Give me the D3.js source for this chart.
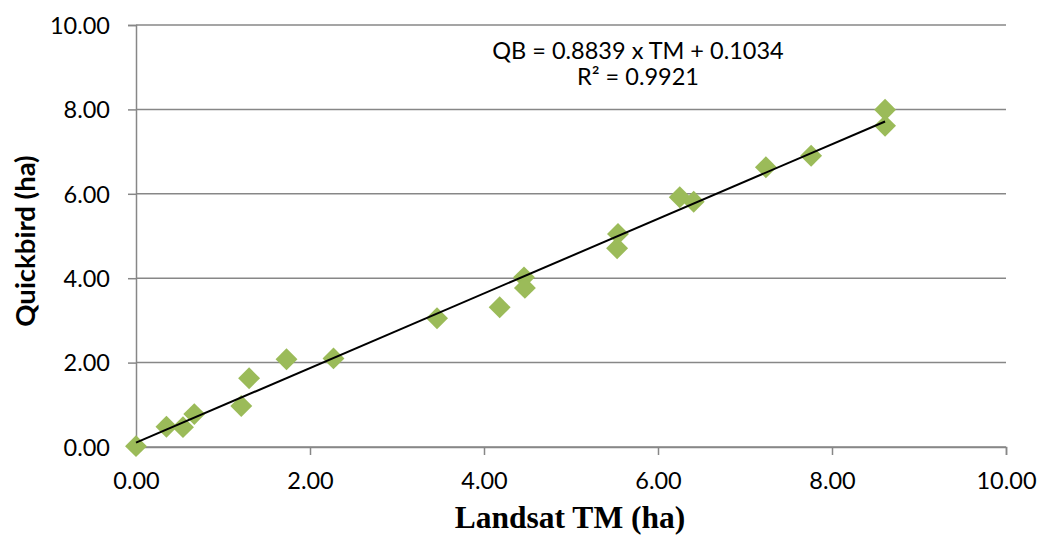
<!DOCTYPE html>
<html lang="en">
<head>
    <meta charset="UTF-8">
    <title>Quickbird vs Landsat TM</title>
    <style>
        body { margin: 0; background: #fff; }
        .tick text { font-family: Lato, "Noto Sans", sans-serif; font-size: 23.5px; fill: #000; }
        .grid line { stroke: #878787; stroke-width: 1.5px; }
    </style>
</head>
<body>

<svg width="1039" height="539"></svg>

<script src="https://cdn.jsdelivr.net/npm/d3@7"></script>

<script>
    // values
    var landsat = [0.00, 0.35, 0.54, 0.67, 1.21, 1.30, 1.73, 2.27, 3.46, 4.18, 4.46, 4.47,
                   5.54, 5.53, 6.25, 6.41, 7.24, 7.76, 8.61, 8.61];
    var quickbird = [0.02, 0.48, 0.47, 0.78, 0.97, 1.63, 2.08, 2.10, 3.05, 3.31, 4.02, 3.77,
                     5.05, 4.71, 5.92, 5.81, 6.63, 6.90, 7.99, 7.61];
    var ticks = [0, 2, 4, 6, 8, 10];
    var slope = 0.8839, intercept = 0.1034;
    var eqLabel = "QB = 0.8839 x TM + 0.1034";
    var r2Label = "R² = 0.9921";

    var svg = d3.select("svg")
    var margin = {top: 25, right: 33, bottom: 92, left: 136}
    var width = +svg.attr("width") - margin.left - margin.right
    var height = +svg.attr("height") - margin.top - margin.bottom
    var plotgroup = svg.append("g").attr("transform", `translate(${margin.left}, ${margin.top})`);

    var x = d3.scaleLinear().domain([0, 10]).range([0, width]);
    var y = d3.scaleLinear().domain([0, 10]).range([height, 0]);

    // horizontal grid
    plotgroup.append("g")
        .attr("class", "grid")
        .selectAll("line")
        .data(ticks)
        .join("line")
        .attr("x1", 0).attr("x2", width)
        .attr("y1", d => y(d)).attr("y2", d => y(d));

    var xAxis = plotgroup.append("g")
        .attr("transform", `translate(0, ${height})`)
        .call(d3.axisBottom(x).tickValues(ticks).tickFormat(d3.format(".2f")).tickSize(8).tickPadding(17));

    var yAxis = plotgroup.append("g")
        .call(d3.axisLeft(y).tickValues(ticks).tickFormat(d3.format(".2f")).tickSize(8).tickPadding(18));

    [xAxis, yAxis].forEach(function (a) {
        a.select(".domain").attr("stroke", "#878787").attr("stroke-width", 1.5);
        a.selectAll(".tick line").attr("stroke", "#878787").attr("stroke-width", 1.5);
    });
    yAxis.selectAll(".tick text").attr("dy", "0.35em");

    var pts = landsat.map((v, i) => ({tm: v, qb: quickbird[i]}));

    plotgroup.selectAll("path.pt")
        .data(pts)
        .join("path")
        .attr("class", "pt")
        .attr("d", d3.symbol(d3.symbolSquare, 240))
        .attr("transform", d => `translate(${x(d.tm)}, ${y(d.qb)}) rotate(45)`)
        .attr("fill", "#9BBB59");

    // linear trendline
    var tmMax = d3.max(landsat);
    plotgroup.append("line")
        .attr("x1", x(0)).attr("y1", y(intercept))
        .attr("x2", x(tmMax)).attr("y2", y(slope * tmMax + intercept))
        .attr("stroke", "#000")
        .attr("stroke-width", 2);

    var eq = plotgroup.append("text")
        .attr("text-anchor", "middle")
        .style("font-family", "Lato, 'Noto Sans', sans-serif")
        .style("font-size", "23.5px");
    eq.append("tspan").attr("x", 638 - margin.left).attr("y", 59 - margin.top).text(eqLabel);
    eq.append("tspan").attr("x", 638 - margin.left).attr("y", 85 - margin.top).text(r2Label);

    svg.append("text")
        .attr("x", margin.left + width / 2 - 1)
        .attr("y", 528)
        .attr("text-anchor", "middle")
        .style("font-family", "'Liberation Serif', 'Times New Roman', serif")
        .style("font-weight", "bold")
        .style("font-size", "31.5px")
        .text("Landsat TM (ha)");

    svg.append("text")
        .attr("transform", "translate(35, 241) rotate(-90)")
        .attr("text-anchor", "middle")
        .style("font-family", "Lato, 'Noto Sans', sans-serif")
        .style("font-weight", "bold")
        .style("font-size", "27.5px")
        .text("Quickbird (ha)");
</script>
</body>
</html>
